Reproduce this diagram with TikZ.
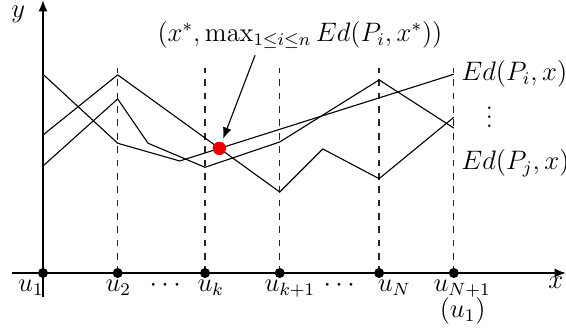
\documentclass[tikz,border=0pt]{standalone}
\usetikzlibrary{arrows.meta}
\begin{document}
\begin{tikzpicture}[
    every node/.style={font=\fontsize{11.6}{14}\selectfont},
    line join=round,
    axis/.style={line width=0.7pt, -{Latex[length=5pt,width=4pt]}},
    curve/.style={line width=0.5pt},
    grid/.style={dashed, black!85, line width=0.6pt},
    tick/.style={circle, fill=black, inner sep=0pt, minimum size=4.5pt}
]

% Colors
\definecolor{maxdot}{RGB}{235,0,0}

\useasboundingbox (-0.679,-0.964) rectangle (8.262,4.313);

% ----------------------------------------------------
% Axes
% ----------------------------------------------------
\draw[axis] (-0.49,0) -- (8.26,0);
\draw[axis] (0,-0.38) -- (0,4.31);

\coordinate (u1) at (0,0);
\coordinate (u2) at (1.18,0);
\coordinate (uk) at (2.56,0);
\coordinate (uk1) at (3.74,0);
\coordinate (uN) at (5.31,0);
\coordinate (uN1) at (6.49,0);

% ----------------------------------------------------
% Dashed verticals and tick dots
% ----------------------------------------------------
\foreach \p in {u2,uk,uk1,uN,uN1}
    \draw[grid] (\p) -- ++(0,3.24);

\foreach \p in {u1,u2,uk,uk1,uN,uN1}
    \node[tick] (dot-\p) at (\p) {};

% ----------------------------------------------------
% Distance functions
% ----------------------------------------------------
\coordinate (a1) at (0,3.14);
\coordinate (a2) at (1.18,2.05);
\coordinate (a3) at (2.16,1.77);
\coordinate (a4) at (6.49,3.14);

\coordinate (b1) at (0,2.18);
\coordinate (b2) at (1.18,3.13);
\coordinate (b3) at (3.74,1.28);
\coordinate (b4) at (4.42,1.96);
\coordinate (b5) at (5.31,1.49);
\coordinate (b6) at (6.49,2.46);

\draw[curve] (a1) -- (a2) -- (a3) -- (a4);
\draw[curve] (b1) -- (b2) -- (b3) -- (b4) -- (b5) -- (b6);
\draw[curve] (0,1.69) -- (1.18,2.75) -- (1.66,2.05) -- (2.56,1.67)
    -- (3.74,2.07) -- (5.31,3.05) -- (6.49,2.29);

% ----------------------------------------------------
% Maximum point
% ----------------------------------------------------
\node[circle, fill=maxdot, inner sep=0pt, minimum size=6pt] (xstar)
    at (intersection of a3--a4 and b2--b3) {};

\node (maxlbl) at (4.06,3.76) {$(x^*, \max_{1\leq i\leq n} Ed(P_i,x^*))$};
\coordinate (arrstart) at (3.35,3.44);
\draw[-{Latex[length=5pt,width=4pt]}, line width=0.5pt, shorten >=1.5pt] (arrstart) -- (xstar);

% ----------------------------------------------------
% Labels
% ----------------------------------------------------
\node[anchor=west, inner sep=1.5pt] (edi) at (6.55,3.14) {$Ed(P_i,x)$};
\node (vdots) at (7.05,2.57) {$\vdots$};
\node[anchor=west, inner sep=1.5pt] (edj) at (6.55,1.74) {$Ed(P_j,x)$};

\node[inner sep=1pt] (ylbl) at (-0.39,4.08) {$y$};
\node (xlbl) at (8.10,-0.16) {$x$};

\node[anchor=base] (lu1) at (-0.19,-0.29) {$u_1$};
\node[anchor=base] (lu2) at (1.19,-0.29) {$u_2$};
\node[anchor=base] (ldots1) at (1.93,-0.29) {$\cdots$};
\node[anchor=base] (luk) at (2.65,-0.29) {$u_k$};
\node[anchor=base] (luk1) at (3.90,-0.29) {$u_{k+1}$};
\node[anchor=base] (ldots2) at (4.68,-0.29) {$\cdots$};
\node[anchor=base] (luN) at (5.55,-0.29) {$u_N$};
\node[anchor=base] (luN1) at (6.62,-0.29) {$u_{N+1}$};
\node[anchor=base] (lu1b) at (6.63,-0.71) {$(u_1)$};

\end{tikzpicture}
\end{document}
